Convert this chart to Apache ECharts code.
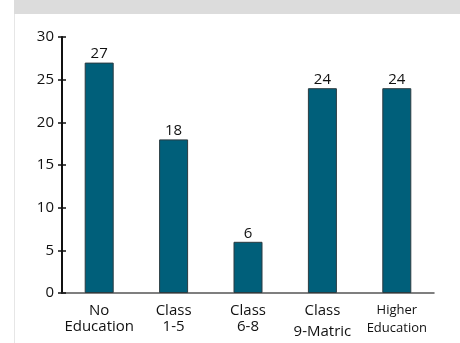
<!DOCTYPE html>
<html>
<head>
<meta charset="utf-8">
<script src="https://cdn.jsdelivr.net/npm/echarts@6/dist/echarts.min.js"></script>
<style>
  html, body { margin: 0; padding: 0; background: #ffffff; }
  #chart { width: 460px; height: 343px; }
</style>
</head>
<body>
<div id="chart"></div>
<script>
// Education level counts
const categories = ['No\nEducation', 'Class\n1-5', 'Class\n6-8', 'Class\n9-Matric', 'Higher\nEducation'];
const values = [27, 18, 6, 24, 24];
const yTicks = { min: 0, max: 30, interval: 5 };

const chart = echarts.init(document.getElementById('chart'), null, { renderer: 'canvas' });

const fontFamily = '"Open Sans", "Noto Sans", sans-serif';

// Two-line category labels; the last one is set smaller, the 9-Matric line sits a bit lower
function catLabel(value, idx) {
  const parts = value.split('\n');
  if (idx === 4) return '{s1|' + parts[0] + '}\n{s2|' + parts[1] + '}';
  if (idx === 3) return '{a|' + parts[0] + '}\n{b|' + parts[1] + '}';
  return '{a|' + parts[0] + '}\n{a|' + parts[1] + '}';
}

chart.setOption({
  animation: false,
  backgroundColor: '#ffffff',
  graphic: [
    { type: 'rect', shape: { x: 14, y: 0, width: 446, height: 14 }, style: { fill: '#dcdcdc' }, silent: true },
    { type: 'line', shape: { x1: 14.5, y1: 14, x2: 14.5, y2: 343 }, style: { stroke: '#e6e6e6', lineWidth: 1 }, silent: true }
  ],
  grid: { left: 62, right: 26, top: 37, bottom: 50 },
  xAxis: {
    type: 'category',
    data: categories,
    boundaryGap: true,
    axisLine: { lineStyle: { color: '#555555', width: 1.5 } },
    axisTick: { inside: true, length: 3, lineStyle: { color: '#111111', width: 1.5 } },
    axisLabel: {
      interval: 0,
      margin: 10,
      color: '#111111',
      fontFamily: fontFamily,
      formatter: catLabel,
      rich: {
        a: { fontSize: 15, lineHeight: 16, fontFamily: fontFamily, color: '#111111' },
        b: { fontSize: 15, lineHeight: 20, fontFamily: fontFamily, color: '#111111', verticalAlign: 'bottom' },
        s1: { fontSize: 13, lineHeight: 15, fontFamily: fontFamily, color: '#111111' },
        s2: { fontSize: 13, lineHeight: 17, fontFamily: fontFamily, color: '#111111', verticalAlign: 'bottom' }
      }
    }
  },
  yAxis: [
    {
      type: 'value',
      min: yTicks.min, max: yTicks.max, interval: yTicks.interval,
      axisLine: { show: true, lineStyle: { color: '#111111', width: 2 } },
      axisTick: { show: true, length: 4, lineStyle: { color: '#111111', width: 1.5 } },
      axisLabel: { margin: 8, fontSize: 15, color: '#111111', fontFamily: fontFamily },
      splitLine: { show: false }
    },
    {
      type: 'value',
      position: 'left',
      min: yTicks.min, max: yTicks.max, interval: yTicks.interval,
      axisLine: { show: false },
      axisTick: { show: true, inside: true, length: 4, lineStyle: { color: '#111111', width: 1.5 } },
      axisLabel: { show: false },
      splitLine: { show: false }
    }
  ],
  series: [{
    type: 'bar',
    data: values,
    barWidth: 29,
    itemStyle: { color: '#005f7a', borderColor: '#2b3b40', borderWidth: 1 },
    label: {
      show: true,
      position: 'top',
      distance: 1,
      fontSize: 15,
      color: '#111111',
      fontFamily: fontFamily
    }
  }]
});
</script>
</body>
</html>
